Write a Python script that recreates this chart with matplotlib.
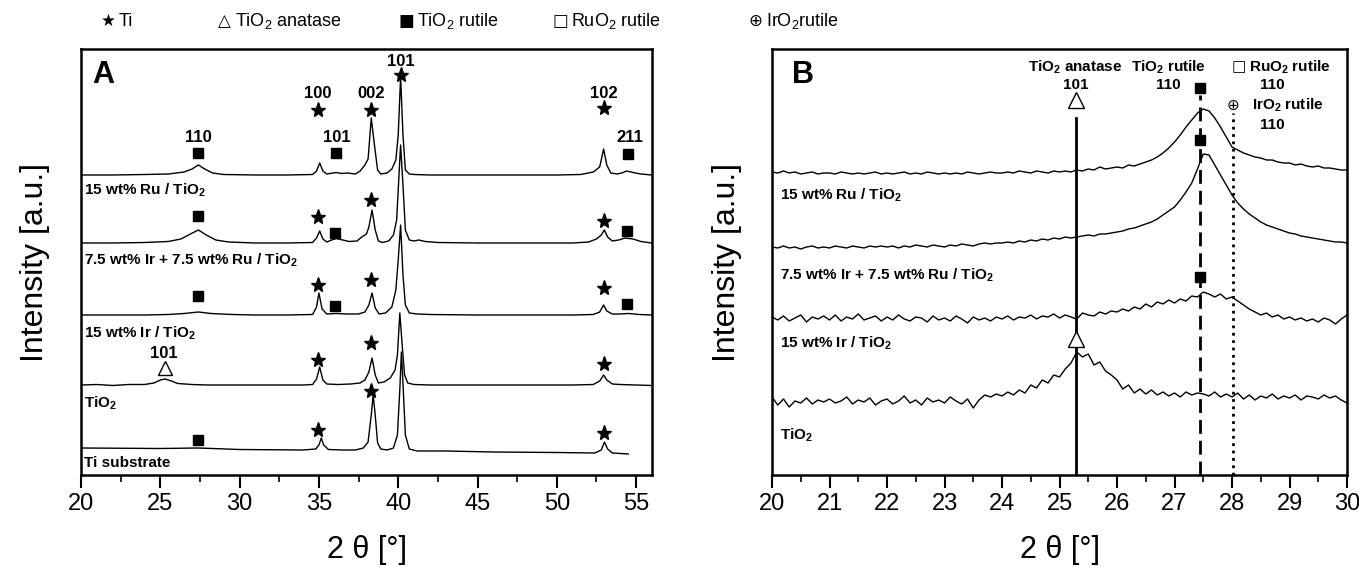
import numpy as np
import matplotlib
matplotlib.use('Agg')
import matplotlib.pyplot as plt

plt.rcParams['font.family'] = ['Liberation Sans', 'DejaVu Sans']
plt.rcParams['mathtext.fontset'] = 'custom'
plt.rcParams['mathtext.rm'] = 'Liberation Sans'
plt.rcParams['mathtext.it'] = 'Liberation Sans:italic'
plt.rcParams['mathtext.bf'] = 'Liberation Sans:bold'

# ---- panel A: full scans (2theta, intensity) ----
a_ru = [(20, 300), (22, 300), (24, 300.5), (25.5, 301), (26.5, 303), (27.0, 306), (27.4, 310),
        (27.8, 306), (28.3, 302), (29, 300.5), (31, 300), (33, 300), (34.6, 300.5), (34.85, 304),
        (35.05, 312), (35.25, 304), (35.5, 301), (35.9, 302), (36.1, 302.5), (36.4, 301.5),
        (36.8, 302), (37.3, 301), (37.6, 304), (37.9, 310), (38.1, 316), (38.3, 357), (38.5, 330),
        (38.7, 305), (38.9, 301), (39.3, 302), (39.6, 306), (39.85, 315), (40.0, 340), (40.15, 398),
        (40.3, 340), (40.45, 305), (40.7, 301), (41, 300.5), (42, 300), (45, 300), (48, 300),
        (50, 300), (51.5, 300.5), (52.3, 303), (52.7, 308), (52.95, 326), (53.15, 310), (53.4, 302),
        (53.8, 301), (54.1, 302), (54.4, 304), (54.8, 302.5), (55.3, 301), (56, 300)]
a_irru = [(20, 232), (22, 232), (24, 232.5), (25.5, 233.5), (26.3, 236), (26.9, 241), (27.4, 245),
          (27.9, 240), (28.5, 235), (29.3, 233), (31, 232), (33, 232), (34.6, 232.5), (34.85, 237),
          (35.05, 244), (35.25, 236), (35.5, 233), (35.8, 235), (36.1, 236.5), (36.5, 235),
          (36.9, 233.5), (37.4, 234), (37.7, 238), (38.0, 241), (38.15, 248), (38.35, 265),
          (38.55, 245), (38.75, 234), (39.0, 232.5), (39.4, 234), (39.7, 240), (39.9, 255),
          (40.05, 300), (40.15, 330), (40.3, 290), (40.45, 245), (40.7, 235), (41.0, 234),
          (41.3, 235), (41.7, 233.5), (42.5, 232.5), (45, 232), (48, 232), (51, 232), (52, 233),
          (52.5, 236), (52.8, 240), (53.0, 245), (53.2, 238), (53.5, 234), (53.9, 235), (54.3, 237),
          (54.8, 236), (55.3, 233.5), (56, 232)]
a_ir = [(20, 160), (22, 160), (24, 160), (25.5, 160.5), (26.5, 161.5), (27.4, 163), (28.2, 161.5),
        (29.5, 160.5), (31, 160), (33, 160), (34.6, 160.5), (34.85, 168), (35.0, 182), (35.2, 166),
        (35.5, 161), (36.1, 161.5), (36.8, 161), (37.5, 161), (37.9, 163), (38.15, 170),
        (38.35, 182), (38.55, 167), (38.8, 161), (39.2, 162), (39.6, 168), (39.85, 185),
        (40.0, 215), (40.15, 250), (40.3, 200), (40.45, 170), (40.7, 162), (41.2, 161),
        (42, 160.5), (45, 160), (48, 160), (51, 160), (52.3, 160.5), (52.7, 163), (52.95, 170),
        (53.15, 164), (53.5, 161), (54.0, 161), (54.5, 161.5), (55.2, 160.5), (56, 160)]
a_tio2 = [(20, 90), (21, 90.5), (22, 89.5), (23, 90.5), (24, 90.5), (24.6, 92), (25.0, 95),
          (25.3, 96), (25.7, 94), (26.1, 91.5), (27, 90.5), (28, 90), (30, 90), (32, 90), (34, 90),
          (34.6, 90.5), (34.85, 96), (35.05, 108), (35.25, 95), (35.5, 91), (36.2, 90.5),
          (37.0, 91), (37.6, 92), (37.9, 95), (38.15, 103), (38.35, 117), (38.55, 100),
          (38.75, 92), (39.1, 93), (39.5, 97), (39.8, 105), (39.95, 120), (40.1, 162),
          (40.25, 130), (40.4, 100), (40.6, 92), (41, 90.5), (42, 90), (45, 90), (48, 90),
          (51, 90), (52.3, 90.5), (52.7, 94), (52.95, 100), (53.15, 95), (53.5, 91), (54, 90.5),
          (55, 90), (56, 89.5)]
a_ti = [(20, 27), (25, 26.5), (27.4, 27), (30, 25.5), (34, 25), (34.8, 26), (35.0, 30),
        (35.15, 37), (35.3, 30), (35.6, 25.5), (36.5, 25), (37.3, 25), (37.8, 27), (38.1, 33),
        (38.3, 60), (38.42, 80), (38.55, 60), (38.7, 32), (38.9, 26), (39.3, 25), (39.7, 27),
        (39.95, 40), (40.1, 85), (40.2, 123), (40.32, 85), (40.45, 40), (40.7, 26), (41.2, 24),
        (43, 24), (46, 23), (50, 22.5), (52.4, 22), (52.8, 25), (53.0, 33), (53.2, 26),
        (53.5, 22), (54, 21.5), (54.5, 21)]
a_curves = [a_ru, a_irru, a_ir, a_tio2, a_ti]

a_labels = ['15 wt% Ru / TiO$_\\mathbf{2}$', '7.5 wt% Ir + 7.5 wt% Ru / TiO$_\\mathbf{2}$',
            '15 wt% Ir / TiO$_\\mathbf{2}$', 'TiO$_\\mathbf{2}$', 'Ti substrate']
a_label_y = [285, 215, 142, 72, 12]

# reflection markers in panel A: (2theta, height)
a_stars = [(40.15, 400), (34.95, 365), (38.3, 365), (52.95, 367),
           (38.3, 275), (34.95, 258), (52.95, 254),
           (34.95, 190), (38.3, 195), (52.95, 187),
           (34.95, 115), (38.3, 132), (52.95, 111),
           (38.3, 84), (34.95, 45), (52.95, 42)]
a_squares = [(27.4, 322), (36.1, 322), (54.5, 321),
             (27.4, 259), (36.0, 242), (54.4, 244),
             (27.4, 179), (36.0, 169), (54.4, 171),
             (27.4, 35)]
a_triangles = [(25.3, 107)]
a_hkl = [('101', 40.15, 413), ('100', 34.95, 382), ('002', 38.3, 382), ('102', 52.95, 381),
         ('110', 27.4, 338), ('101', 36.1, 338), ('211', 54.6, 338), ('101', 25.2, 121)]

# ---- panel B: zoom 20-30 deg ----
b_x = np.round(np.arange(20, 30.001, 0.1), 2)
b_ru = [303, 302, 304, 302, 303, 301, 302, 303, 301, 302,
        302, 301, 303, 302, 301, 302, 301, 302, 303, 301,
        302, 301, 302, 303, 301, 302, 301, 303, 302, 301,
        302, 301, 302, 301, 303, 302, 301, 302, 303, 302,
        302, 303, 302, 304, 303, 302, 304, 303, 302, 304,
        303, 304, 303, 305, 304, 306, 305, 308, 306, 307,
        308, 307, 310, 309, 311, 313, 315, 318, 322, 327,
        333, 340, 348, 355, 362, 366, 364, 357, 348, 338,
        328, 325, 322, 320, 318, 317, 315, 315, 313, 312,
        312, 310, 311, 309, 308, 309, 307, 307, 306, 305,
        305]
b_irru = [228, 227, 229, 227, 228, 226, 228, 229, 227, 228,
          227, 229, 228, 227, 229, 228, 227, 229, 228, 229,
          228, 229, 227, 229, 228, 230, 229, 228, 230, 229,
          228, 230, 229, 231, 230, 229, 231, 232, 231, 232,
          232, 233, 232, 234, 233, 235, 234, 236, 235, 237,
          236, 238, 237, 238, 239, 240, 239, 241, 241, 242,
          243, 244, 246, 247, 249, 251, 253, 256, 260, 264,
          268, 275, 283, 292, 306, 321, 320, 310, 300, 290,
          280, 272, 266, 261, 257, 253, 250, 248, 246, 244,
          242, 241, 239, 238, 237, 236, 235, 234, 233, 233,
          232]
b_ir = [158, 155, 159, 154, 157, 160, 153, 158, 156, 159,
        155, 160, 154, 158, 156, 161, 155, 157, 159, 154,
        158, 155, 160, 156, 154, 158, 157, 153, 159, 155,
        157, 154, 159, 156, 152, 158, 155, 157, 154, 158,
        156, 159, 155, 158, 157, 160, 156, 159, 158, 161,
        157, 160, 158, 156, 162, 160, 159, 163, 161, 164,
        163, 166, 164, 168, 166, 171, 168, 173, 171, 175,
        172, 176, 174, 179, 178, 183, 181, 178, 181, 176,
        178, 174, 170, 166, 163, 160, 162, 158, 160, 156,
        158, 155, 157, 154, 156, 153, 157, 155, 151, 156,
        160]
b_tio2 = [78, 70, 76, 68, 74, 72, 77, 71, 75, 73,
          76, 72, 74, 78, 71, 75, 73, 77, 70, 74,
          76, 71, 74, 79, 72, 75, 70, 77, 73, 75,
          72, 78, 74, 71, 76, 67, 75, 80, 78, 81,
          79, 83, 80, 85, 82, 90, 87, 95, 92, 100,
          98, 106, 112, 123, 118, 121, 110, 113, 104, 100,
          95, 86, 90, 82, 86, 81, 85, 80, 83, 79,
          82, 78, 83, 80, 82, 81, 79, 83, 78, 81,
          78, 82, 76, 80, 75, 79, 77, 81, 76, 79,
          77, 80, 75, 79, 78, 76, 80, 77, 79, 75,
          72]
b_curves = [b_ru, b_irru, b_ir, b_tio2]
b_label_y = [280, 200, 132, 40]

# reference lines in panel B: (2theta, top of line, style)
b_lines = [(25.28, 357, '-'), (27.45, 380, (0, (5, 2.5))), (28.02, 362, ':')]
b_squares = [(27.45, 387), (27.45, 335), (27.45, 198)]
b_triangles = [(25.28, 375), (25.28, 136)]

# legend row: symbol, label
legend_syms = ['★', '△', '■', '□', '⊕']
legend_texts = ['Ti', 'TiO$_2$ anatase', 'TiO$_2$ rutile', 'RuO$_2$ rutile', 'IrO$_2$rutile']

fig = plt.figure(figsize=(13.59, 5.67), dpi=100)
axA = fig.add_axes([81 / 1359, 92 / 567, 571 / 1359, 426 / 567])
axB = fig.add_axes([772 / 1359, 92 / 567, 575 / 1359, 426 / 567])

for c in a_curves:
    arr = np.array(c)
    axA.plot(arr[:, 0], arr[:, 1], color='black', lw=1.0)
for lab, y in zip(a_labels, a_label_y):
    axA.text(20.2, y, lab, fontsize=11, fontweight='bold', va='center', ha='left')
arr = np.array(a_stars)
axA.plot(arr[:, 0], arr[:, 1], ls='none', marker='*', ms=11, color='black')
arr = np.array(a_squares)
axA.plot(arr[:, 0], arr[:, 1], ls='none', marker='s', ms=7, color='black')
arr = np.array(a_triangles)
axA.plot(arr[:, 0], arr[:, 1], ls='none', marker='^', ms=10, mfc='white', mec='black', mew=1)
for t, x, y in a_hkl:
    axA.text(x, y, t, fontsize=12, fontweight='bold', ha='center', va='center')
axA.text(20.7, 400, 'A', fontsize=22, fontweight='bold', va='center', ha='left')
axA.set_xlim(20, 56)
axA.set_xticks(np.arange(20, 56, 5))
axA.set_xticks(np.arange(22.5, 56, 5), minor=True)

for c in b_curves:
    axB.plot(b_x, c, color='black', lw=1.0)
for lab, y in zip(a_labels[:4], b_label_y):
    axB.text(20.14, y, lab, fontsize=11, fontweight='bold', va='center', ha='left')
for x, top, ls in b_lines:
    axB.plot([x, x], [0, top], color='black', lw=2.0, ls=ls)
arr = np.array(b_squares)
axB.plot(arr[:, 0], arr[:, 1], ls='none', marker='s', ms=7, color='black')
arr = np.array(b_triangles)
axB.plot(arr[:, 0], arr[:, 1], ls='none', marker='^', ms=11, mfc='white', mec='black', mew=1)
axB.text(25.28, 408, 'TiO$_\\mathbf{2}$ anatase', fontsize=11, fontweight='bold', ha='center', va='center')
axB.text(25.28, 390, '101', fontsize=11, fontweight='bold', ha='center', va='center')
axB.text(26.9, 408, 'TiO$_\\mathbf{2}$ rutile', fontsize=11, fontweight='bold', ha='center', va='center')
axB.text(26.9, 390, '110', fontsize=11, fontweight='bold', ha='center', va='center')
axB.text(28.0, 408, '□', fontsize=11, ha='left', va='center', family='DejaVu Sans')
axB.text(28.3, 408, 'RuO$_\\mathbf{2}$ rutile', fontsize=11, fontweight='bold', ha='left', va='center')
axB.text(28.7, 390, '110', fontsize=11, fontweight='bold', ha='center', va='center')
axB.text(28.02, 370, '⊕', fontsize=11, ha='center', va='center', family='DejaVu Sans')
axB.text(28.35, 370, 'IrO$_\\mathbf{2}$ rutile', fontsize=11, fontweight='bold', ha='left', va='center')
axB.text(28.7, 350, '110', fontsize=11, fontweight='bold', ha='center', va='center')
axB.text(20.35, 400, 'B', fontsize=22, fontweight='bold', va='center', ha='left')
axB.set_xlim(20, 30)
axB.set_xticks(np.arange(20, 31, 1))
axB.set_xticks(np.arange(20.5, 30, 1), minor=True)

for ax in (axA, axB):
    ax.set_ylim(0, 426)
    ax.set_yticks([])
    for s in ax.spines.values():
        s.set_linewidth(1.8)
    ax.tick_params(axis='x', which='major', direction='out', length=9, width=1.5,
                   labelsize=17, pad=4)
    ax.tick_params(axis='x', which='minor', direction='out', length=5, width=1.2)
    ax.set_xlabel('2 θ [°]', fontsize=22)
    ax.set_ylabel('Intensity [a.u.]', fontsize=23)
axA.xaxis.set_label_coords(0.5, -0.14)
axB.xaxis.set_label_coords(0.5, -0.14)
axA.yaxis.set_label_coords(-0.054, 0.5)
axB.yaxis.set_label_coords(-0.052, 0.5)

# legend row on top (symbol and text drawn separately)
sym_px = [108, 224, 406, 560, 755]
for px, sym, txt in zip(sym_px, legend_syms, legend_texts):
    fig.text(px / 1359, 1 - 21 / 567, sym, fontsize=12, ha='center', va='center',
             family='DejaVu Sans')
    fig.text((px + 11) / 1359, 1 - 21 / 567, txt, fontsize=13, ha='left', va='center')

fig.savefig('out.png', dpi=100)
